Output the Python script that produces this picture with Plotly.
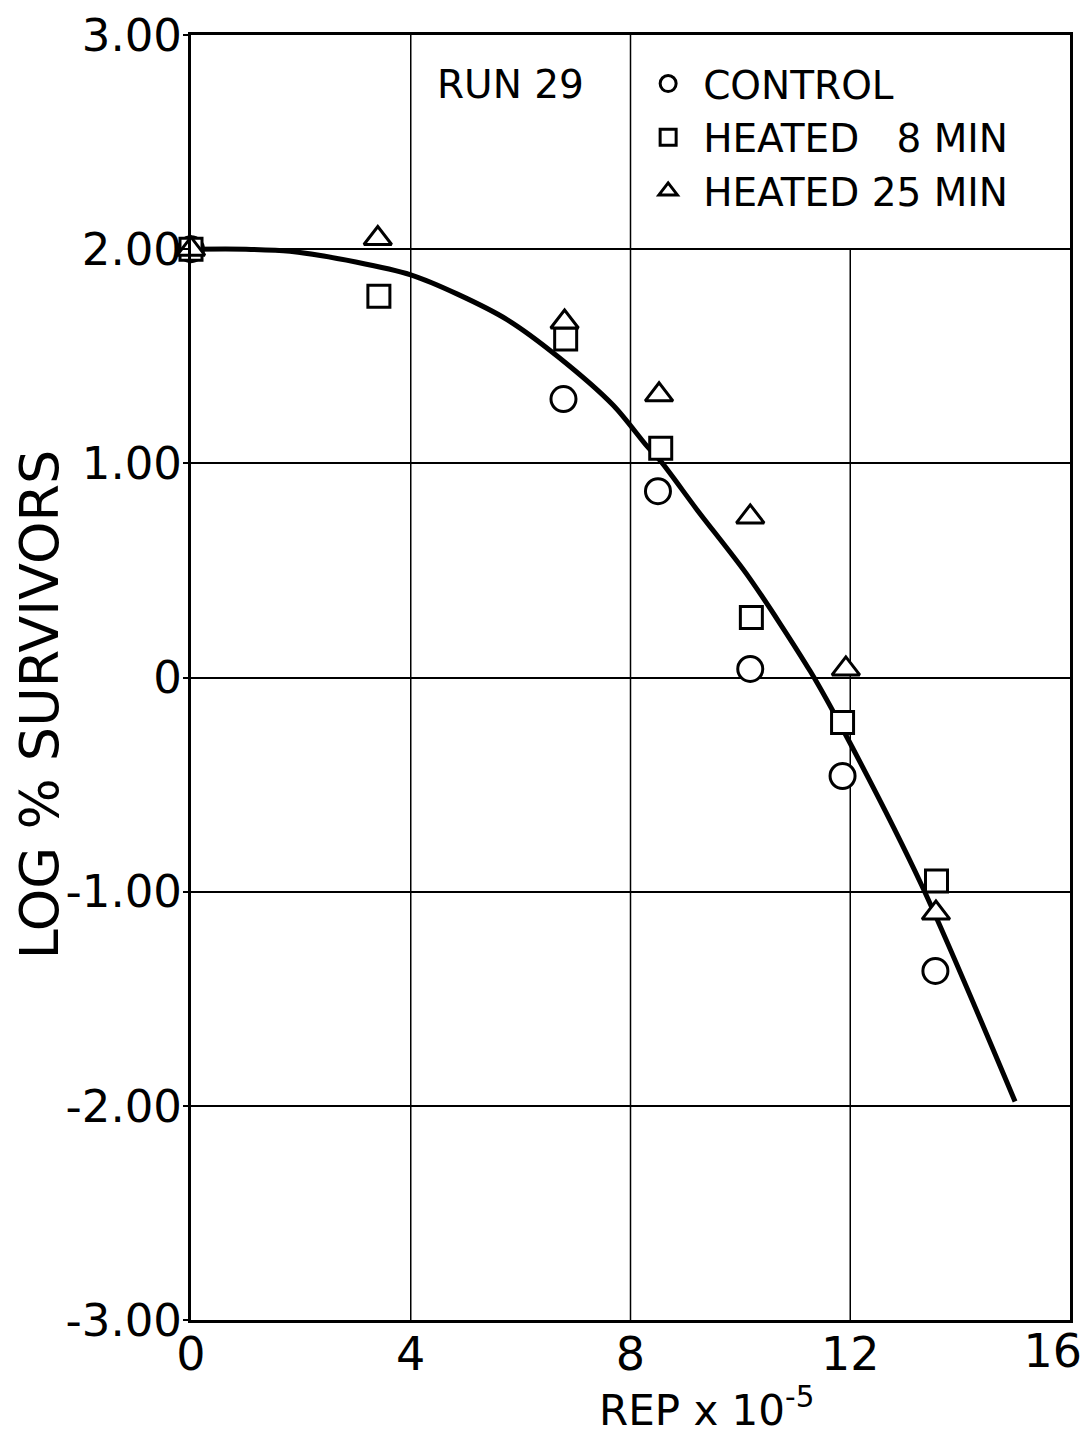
import plotly.graph_objects as go

# ---- data ----
CONTROL_X = [0, 6.78, 8.50, 10.18, 11.86, 13.55]
CONTROL_Y = [2.00, 1.30, 0.87, 0.04, -0.46, -1.37]
HEAT8_X = [0, 3.42, 6.82, 8.55, 10.20, 11.86, 13.57]
HEAT8_Y = [2.00, 1.78, 1.58, 1.07, 0.28, -0.21, -0.95]
HEAT25_X = [0, 3.40, 6.80, 8.52, 10.18, 11.92, 13.56]
HEAT25_Y = [2.00, 2.05, 1.66, 1.32, 0.75, 0.04, -1.10]
CURVE_X = [0, 1, 1.8, 3, 4, 4.85, 5.76, 6.67, 7.69, 8.3, 8.55, 9.22, 10.15, 11.27, 11.88, 13.3, 15.0]
CURVE_Y = [2.00, 2.00, 1.99, 1.94, 1.88, 1.79, 1.67, 1.50, 1.27, 1.08, 1.01, 0.78, 0.47, 0.03, -0.25, -0.97, -1.98]

X_TICKS = [0, 4, 8, 12, 16]
X_TICKTEXT = ["0", "4", "8", "12", "16"]
Y_TICKS = [-3, -2, -1, 0, 1, 2, 3]
Y_TICKTEXT = ["-3.00", "-2.00", "-1.00", "0", "1.00", "2.00", "3.00"]
LEGEND_CELL = dict(x0=8, x1=16, y0=2, y1=3)

FONT = "DejaVu Sans"
BLACK = "black"

fig = go.Figure()

# all traces live on the twin x axis (same scale as x, which draws the frame)
fig.add_trace(go.Scatter(x=CURVE_X, y=CURVE_Y, mode="lines", xaxis="x2", yaxis="y",
                         line=dict(color=BLACK, width=5, shape="spline", smoothing=0.8),
                         showlegend=False, hoverinfo="skip"))

fig.add_trace(go.Scatter(x=CONTROL_X, y=CONTROL_Y, mode="markers", name="CONTROL",
                         xaxis="x2", yaxis="y", cliponaxis=False,
                         marker=dict(symbol="circle", size=25, color="white",
                                     line=dict(color=BLACK, width=3))))
fig.add_trace(go.Scatter(x=HEAT8_X, y=HEAT8_Y, mode="markers", name="HEATED \u20078 MIN",
                         xaxis="x2", yaxis="y", cliponaxis=False,
                         marker=dict(symbol="square", size=22, color="white",
                                     line=dict(color=BLACK, width=3))))
fig.add_trace(go.Scatter(x=HEAT25_X, y=HEAT25_Y, mode="markers", name="HEATED 25 MIN",
                         xaxis="x2", yaxis="y", cliponaxis=False,
                         marker=dict(symbol="triangle-up", size=24, color="white",
                                     line=dict(color=BLACK, width=3))))

# vertical grid lines, skipping the legend cell
shapes = []
for xv in X_TICKS[1:-1]:
    top = LEGEND_CELL["y0"] if LEGEND_CELL["x0"] < xv < LEGEND_CELL["x1"] else Y_TICKS[-1]
    shapes.append(dict(type="line", xref="x", yref="y", x0=xv, x1=xv,
                       y0=Y_TICKS[0], y1=top, line=dict(color=BLACK, width=1.5),
                       layer="between"))

XFONT = dict(family=FONT, size=46, color=BLACK)

fig.update_layout(
    width=1088, height=1434,
    margin=dict(l=191, r=18, t=35, b=114),
    paper_bgcolor="white", plot_bgcolor="white",
    font=dict(family=FONT, color=BLACK),
    shapes=shapes,
    showlegend=True,
    legend=dict(x=0.503, y=0.987, xanchor="left", yanchor="top",
                bgcolor="rgba(0,0,0,0)", borderwidth=0,
                font=dict(family=FONT, size=39, color=BLACK),
                itemwidth=60, tracegroupgap=0),
    annotations=[
        dict(text="RUN 29", x=5.82, y=2.77, xref="x", yref="y", showarrow=False,
             font=dict(family=FONT, size=39, color=BLACK)),
        dict(text="REP x 10<sup>-5</sup>", x=0.587, y=-0.068, xref="paper", yref="paper",
             xanchor="center", yanchor="middle", showarrow=False,
             font=dict(family=FONT, size=42, color=BLACK)),
        dict(text="LOG % SURVIVORS", x=-0.172, y=0.479, xref="paper", yref="paper",
             xanchor="center", yanchor="middle", textangle=-90, showarrow=False,
             font=dict(family=FONT, size=54, color=BLACK)),
    ],
    xaxis=dict(range=[0, 16], tickvals=X_TICKS[:-1], ticktext=X_TICKTEXT[:-1],
               showgrid=False, zeroline=False, showline=True, mirror=True,
               linecolor=BLACK, linewidth=3, ticks="", ticklabelstandoff=-8,
               tickfont=XFONT, automargin=False),
    # the last x label sits at the page edge: drawn by the twin axis,
    # aligned to the left of its tick so it stays inside the page
    xaxis2=dict(overlaying="x", matches="x", anchor="y", side="bottom",
                range=[0, 16], tickvals=X_TICKS[-1:], ticktext=X_TICKTEXT[-1:],
                ticklabelposition="outside left", ticklabelshift=12,
                showgrid=False, zeroline=False, showline=False, ticks="",
                tickfont=XFONT, automargin=False),
    yaxis=dict(range=[-3, 3], tickvals=Y_TICKS, ticktext=Y_TICKTEXT,
               showgrid=True, gridcolor=BLACK, gridwidth=1.5, zeroline=False,
               showline=True, mirror=True, linecolor=BLACK, linewidth=3,
               ticks="outside", ticklen=5, tickcolor=BLACK, tickwidth=2,
               ticklabelstandoff=-8,
               tickfont=dict(family=FONT, size=45, color=BLACK),
               automargin=False),
)

fig.write_html("out.html")
